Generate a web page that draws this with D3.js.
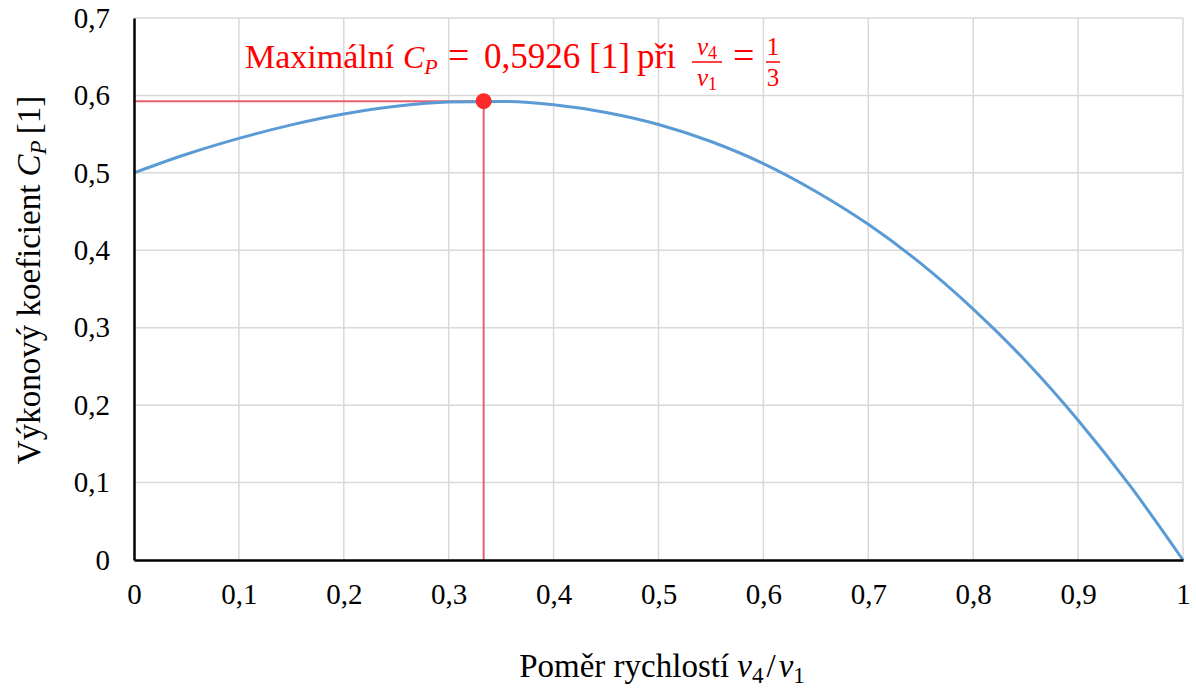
<!DOCTYPE html>
<html>
<head>
<meta charset="utf-8">
<script src="https://cdn.jsdelivr.net/npm/d3@7"></script>
<style>
  body { margin: 0; background: #fff; }
  svg { display: block; }
</style>
</head>
<body>
<svg id="chart" width="1196" height="688"></svg>
<script>
// data
var ratio = [0, 0.05, 0.1, 0.15, 0.2, 0.25, 0.3, 0.35, 0.4, 0.45, 0.5, 0.55, 0.6, 0.65, 0.7, 0.75, 0.8, 0.85, 0.9, 0.95, 1];
var cp = [0.5, 0.524, 0.5445, 0.562, 0.576, 0.586, 0.5915, 0.5923, 0.588, 0.578, 0.5625, 0.5405, 0.512, 0.476, 0.4335, 0.383, 0.324, 0.257, 0.1805, 0.095, 0];
var xTicks = [0, 0.1, 0.2, 0.3, 0.4, 0.5, 0.6, 0.7, 0.8, 0.9, 1];
var yTicks = [0, 0.1, 0.2, 0.3, 0.4, 0.5, 0.6, 0.7];
var maxX = 1 / 3;
var maxCp = 0.5926;

var FONT = "'Liberation Serif'";
var svg = d3.select('#chart');
var margin = {top: 18, right: 12, bottom: 128, left: 134};
var W = 1196, H = 688;

var x = d3.scaleLinear().domain([0, 1]).range([margin.left, W - margin.right - 1]);
var y = d3.scaleLinear().domain([0, 0.7]).range([H - margin.bottom, margin.top]);

var fmt = function(d) { return d3.format('~g')(d).replace('.', ','); };

// grid
var grid = svg.append('g');
grid.selectAll('.vg').data(xTicks.slice(1)).enter().append('line')
  .attr('x1', d => x(d)).attr('x2', d => x(d))
  .attr('y1', y(0)).attr('y2', y(0.7))
  .attr('stroke', '#d9d9d9').attr('stroke-width', 1.5);
grid.selectAll('.hg').data(yTicks.slice(1)).enter().append('line')
  .attr('x1', x(0)).attr('x2', x(1))
  .attr('y1', d => y(d)).attr('y2', d => y(d))
  .attr('stroke', '#d9d9d9').attr('stroke-width', 1.5);

// axes
var xAxis = g => g
  .attr('transform', `translate(0, ${y(0)})`)
  .call(d3.axisBottom(x).tickValues(xTicks).tickFormat(fmt).tickSize(0).tickPadding(23))
  .call(g => g.select('.domain').attr('stroke', '#000').attr('stroke-width', 2.5))
  .call(g => g.selectAll('text').style('font-family', FONT).style('font-size', '29px').attr('fill', '#000'));
var yAxis = g => g
  .attr('transform', `translate(${x(0)}, 0)`)
  .call(d3.axisLeft(y).tickValues(yTicks).tickFormat(fmt).tickSize(0).tickPadding(24))
  .call(g => g.select('.domain').attr('stroke', '#000').attr('stroke-width', 2.5))
  .call(g => g.selectAll('text').style('font-family', FONT).style('font-size', '29px').attr('fill', '#000'));

// red guides
svg.append('line')
  .attr('x1', x(0)).attr('x2', x(maxX))
  .attr('y1', y(maxCp)).attr('y2', y(maxCp))
  .attr('stroke', '#e8606c').attr('stroke-width', 2);
svg.append('line')
  .attr('x1', x(maxX)).attr('x2', x(maxX))
  .attr('y1', y(maxCp)).attr('y2', y(0))
  .attr('stroke', '#e8606c').attr('stroke-width', 2);

// curve
var line = d3.line().x((d, i) => x(ratio[i])).y(d => y(d)).curve(d3.curveMonotoneX);
svg.append('path').datum(cp)
  .attr('d', line)
  .attr('fill', 'none')
  .attr('stroke', '#5b9bd5')
  .attr('stroke-width', 3);

svg.append('g').call(xAxis);
svg.append('g').call(yAxis);

// max point
svg.append('circle')
  .attr('cx', x(maxX)).attr('cy', y(maxCp))
  .attr('r', 8).attr('fill', '#ff2a2a');

// annotation
var red = '#ff0000';
function label(px, py, size, parts, anchor) {
  var t = svg.append('text').attr('x', px).attr('y', py)
    .attr('text-anchor', anchor || 'start').attr('fill', red)
    .style('font-family', FONT).style('font-size', size + 'px');
  parts.forEach(function(p) {
    var s = t.append('tspan').text(p.t);
    if (p.i) s.style('font-style', 'italic');
    if (p.sub) s.style('font-size', Math.round(size * 0.7) + 'px').attr('dy', p.sub);
    if (p.dx) s.attr('dx', p.dx);
  });
  return t;
}
label(245, 68, 34, [{t: 'Maximální'}]);
label(403, 68, 32, [{t: 'C', i: true}, {t: 'P', i: true, sub: 6}]);
label(448, 68, 38, [{t: '='}]);
label(484, 68, 35, [{t: '0,5926'}]);
label(589, 68, 35, [{t: '[1]'}]);
label(637, 68, 35, [{t: 'při'}]);

function fraction(cx, top, bot, italic) {
  var s = 25;
  label(cx, 55, s, italic ? [{t: top[0], i: true}, {t: top[1], sub: 4}] : [{t: top}], 'middle');
  label(cx, 86, s, italic ? [{t: bot[0], i: true}, {t: bot[1], sub: 4}] : [{t: bot}], 'middle');
  svg.append('line').attr('x1', cx - (italic ? 15 : 7)).attr('x2', cx + (italic ? 15 : 7))
    .attr('y1', 62).attr('y2', 62).attr('stroke', red).attr('stroke-width', 1.5);
}
fraction(707, ['v', '4'], ['v', '1'], true);
label(733, 68, 38, [{t: '='}]);
fraction(773, '1', '3', false);

// axis titles
var xt = svg.append('text')
  .attr('x', 662).attr('y', 677)
  .attr('text-anchor', 'middle').attr('fill', '#000')
  .style('font-family', FONT).style('font-size', '33px');
xt.append('tspan').text('Poměr rychlostí ');
xt.append('tspan').style('font-style', 'italic').text('v');
xt.append('tspan').style('font-size', '23px').attr('dy', 6).text('4');
xt.append('tspan').attr('dy', -6).attr('dx', 3).text('/');
xt.append('tspan').attr('dx', 3).style('font-style', 'italic').text('v');
xt.append('tspan').style('font-size', '23px').attr('dy', 6).text('1');

var yt = svg.append('text')
  .attr('transform', 'translate(40, 280) rotate(-90)')
  .attr('text-anchor', 'middle').attr('fill', '#000')
  .style('font-family', FONT).style('font-size', '33px');
yt.append('tspan').text('Výkonový koeficient ');
yt.append('tspan').style('font-style', 'italic').text('C');
yt.append('tspan').style('font-style', 'italic').style('font-size', '23px').attr('dy', 6).text('P');
yt.append('tspan').attr('dy', -6).attr('dx', 6).text('[1]');
</script>
</body>
</html>
